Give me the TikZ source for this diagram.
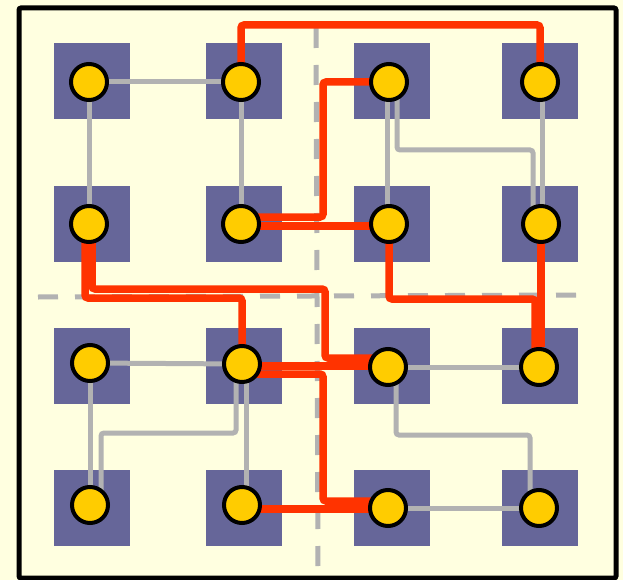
\documentclass[tikz,border=0pt]{standalone}
\usepackage{tikz}
\usetikzlibrary{positioning}

\definecolor{boardbg}{RGB}{255,255,224}
\definecolor{padblue}{RGB}{102,102,153}
\definecolor{pinyellow}{RGB}{255,204,0}
\definecolor{netred}{RGB}{255,51,0}
\definecolor{netgray}{RGB}{178,178,178}

\pgfdeclarelayer{front}
\pgfsetlayers{main,front}

\begin{document}
\begin{tikzpicture}[x=1pt,y=-1pt,
  pad/.style={rectangle,fill=padblue,minimum size=76pt,inner sep=0pt},
  pin/.style={circle,draw=black,line width=4pt,fill=pinyellow,
              minimum size=36pt,inner sep=0pt},
  wire/.style={draw=netgray,line width=5pt,rounded corners=3pt},
  route/.style={draw=netred,line width=7.5pt,rounded corners=3pt},
  cut/.style={draw=netgray,line width=5pt,dash pattern=on 20pt off 17pt}]

\useasboundingbox (0,0) rectangle (623,580);
\fill[boardbg] (0,0) rectangle (623,580);
\draw[line width=5pt,rounded corners=2pt] (19,8) rectangle (616,578);

\node[pad] (p11) at (92,81.5) {};
\node[pad] (p12) at (243.5,81.5) {};
\node[pad] (p13) at (392,81.5) {};
\node[pad] (p14) at (539.5,81.5) {};
\node[pad] (p21) at (92,224) {};
\node[pad] (p22) at (243.5,224) {};
\node[pad] (p23) at (392,224) {};
\node[pad] (p24) at (539.5,224) {};
\node[pad] (p31) at (92,365.5) {};
\node[pad] (p32) at (243.5,365.5) {};
\node[pad] (p33) at (392,365.5) {};
\node[pad] (p34) at (539.5,365.5) {};
\node[pad] (p41) at (92,508) {};
\node[pad] (p42) at (243.5,508) {};
\node[pad] (p43) at (392,508) {};
\node[pad] (p44) at (539.5,508) {};

\begin{pgfonlayer}{front}
\node[pin] (d11) at (89,82) {};
\node[pin] (d12) at (241,82) {};
\node[pin] (d13) at (389,82) {};
\node[pin] (d14) at (540,82) {};
\node[pin] (d21) at (89,224) {};
\node[pin] (d22) at (241,224) {};
\node[pin] (d23) at (389,224) {};
\node[pin] (d24) at (541,224) {};
\node[pin] (d31) at (90,363) {};
\node[pin] (d32) at (242,364) {};
\node[pin] (d33) at (388,367) {};
\node[pin] (d34) at (539,367) {};
\node[pin] (d41) at (90,505) {};
\node[pin] (d42) at (242,505) {};
\node[pin] (d43) at (388,508) {};
\node[pin] (d44) at (539,508) {};
\end{pgfonlayer}

\draw[cut] (316,28) -- (318,568);
\draw[cut] (38,297) -- (584,295);

\draw[wire] (d11.center) -- (d12.center);
\draw[wire] (d11.center) -- (d21.center);
\draw[wire] (d12.center) -- (d22.center);
\draw[wire] ([xshift=-2pt]d13.center) -- ([xshift=-2pt]d23.center);
\draw[wire] ([xshift=8pt]d13.center) -- ++(0,68) -| ([xshift=-8pt]d24.center);
\draw[wire] ([xshift=2pt]d14.center) -- ([xshift=1pt]d24.center);
\draw[wire] (d31.center) -- (d32.center);
\draw[wire] (d31.center) -- (d41.center);
\draw[wire] ([xshift=-6pt]d32.center) -- ++(0,69) -| ([xshift=11pt]d41.center);
\draw[wire] ([xshift=4pt]d32.center) -- ([xshift=4pt]d42.center);
\draw[wire] (d33.center) -- (d34.center);
\draw[wire] ([xshift=8pt]d33.center) -- ++(0,68) -| ([xshift=-9pt]d44.center);
\draw[wire] (d43.center) -- (d44.center);

\draw[route] (d12.center) -- ++(0,-57) -| (d14.center);
\draw[route] (d13.center) -- ++(-66,0) |- ([yshift=7pt]d22.center);
\draw[route] ([yshift=-2pt]d22.center) -- ([yshift=-2pt]d23.center);
\draw[route] (d23.center) -- ++(0,75) -| ([xshift=-4pt]d34.center);
\draw[route] (d24.center) -- (d24.center |- d34.north);
\draw[route] ([xshift=-4pt]d21.center) -- ++(0,74) -| (d32.center);
\draw[route] ([xshift=3pt]d21.center) -- ++(0,65) -- ++(233,0) -- ++(0,69)
  -- ([yshift=9pt]d33.center);
\draw[route] ([yshift=-2pt]d32.center) -- ([yshift=1pt]d33.center);
\draw[route] ([yshift=-10pt]d32.center) -- ++(81,0) |- ([yshift=7pt]d43.center);
\draw[route] ([yshift=-4pt]d42.center) -- ([yshift=-1pt]d43.center);
\end{tikzpicture}
\end{document}
